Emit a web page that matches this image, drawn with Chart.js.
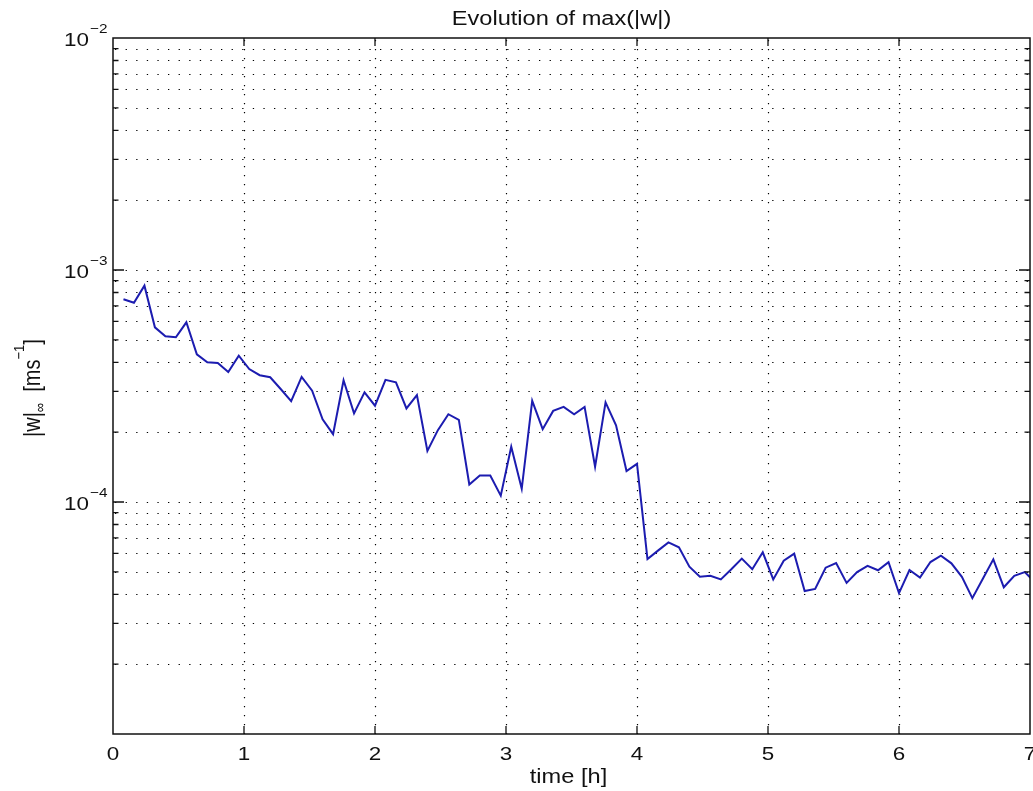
<!DOCTYPE html>
<html>
<head>
<meta charset="utf-8">
<title>Evolution of max(|w|)</title>
<script src="https://cdn.jsdelivr.net/npm/chart.js@4/dist/chart.umd.min.js"></script>
<style>
  html, body { margin: 0; padding: 0; background: #fff; }
  canvas { display: block; }
</style>
</head>
<body>
<canvas id="chart" width="1033" height="791"></canvas>
<script>
// sample times [h]
const times = [
  0.08, 0.16, 0.24, 0.32, 0.40, 0.48, 0.56, 0.64, 0.72, 0.80,
  0.88, 0.96, 1.04, 1.12, 1.20, 1.28, 1.36, 1.44, 1.52, 1.60,
  1.68, 1.76, 1.84, 1.92, 2.00, 2.08, 2.16, 2.24, 2.32, 2.40,
  2.48, 2.56, 2.64, 2.72, 2.80, 2.88, 2.96, 3.04, 3.12, 3.20,
  3.28, 3.36, 3.44, 3.52, 3.60, 3.68, 3.76, 3.84, 3.92, 4.00,
  4.08, 4.16, 4.24, 4.32, 4.40, 4.48, 4.56, 4.64, 4.72, 4.80,
  4.88, 4.96, 5.04, 5.12, 5.20, 5.28, 5.36, 5.44, 5.52, 5.60,
  5.68, 5.76, 5.84, 5.92, 6.00, 6.08, 6.16, 6.24, 6.32, 6.40,
  6.48, 6.56, 6.64, 6.72, 6.80, 6.88, 6.96, 7.04
];

// max(|w|) [m/s]
const wMax = [
  7.48e-4, 7.23e-4, 8.56e-4, 5.66e-4, 5.18e-4, 5.13e-4, 5.95e-4, 4.33e-4, 4.00e-4, 3.97e-4,
  3.63e-4, 4.27e-4, 3.74e-4, 3.52e-4, 3.45e-4, 3.07e-4, 2.72e-4, 3.46e-4, 3.02e-4, 2.27e-4,
  1.96e-4, 3.35e-4, 2.41e-4, 2.97e-4, 2.60e-4, 3.36e-4, 3.28e-4, 2.53e-4, 2.89e-4, 1.66e-4,
  2.04e-4, 2.39e-4, 2.26e-4, 1.19e-4, 1.30e-4, 1.30e-4, 1.065e-4, 1.73e-4, 1.14e-4, 2.73e-4,
  2.06e-4, 2.47e-4, 2.57e-4, 2.39e-4, 2.57e-4, 1.42e-4, 2.69e-4, 2.14e-4, 1.36e-4, 1.46e-4,
  5.68e-5, 6.17e-5, 6.70e-5, 6.38e-5, 5.26e-5, 4.76e-5, 4.81e-5, 4.64e-5, 5.13e-5, 5.70e-5,
  5.13e-5, 6.07e-5, 4.64e-5, 5.58e-5, 5.99e-5, 4.13e-5, 4.22e-5, 5.21e-5, 5.46e-5, 4.48e-5,
  4.99e-5, 5.31e-5, 5.08e-5, 5.50e-5, 4.05e-5, 5.09e-5, 4.72e-5, 5.51e-5, 5.87e-5, 5.44e-5,
  4.76e-5, 3.85e-5, 4.67e-5, 5.66e-5, 4.29e-5, 4.81e-5, 4.99e-5, 4.50e-5
];

// axis ticks
const xTicks = [0, 1, 2, 3, 4, 5, 6, 7];
const yDecadeExps = [-5, -4, -3, -2];
const yLabelExps = [-4, -3, -2];
const yMinorMults = [2, 3, 4, 5, 6, 7, 8, 9];

const FONT = '"Liberation Sans", Arial, Helvetica, sans-serif';
const SX = 1.18; // the original figure is a bit wider than tall

function stretchText(ctx, text, x, y, size, align) {
  ctx.save();
  ctx.font = size + 'px ' + FONT;
  ctx.textAlign = align;
  ctx.textBaseline = 'alphabetic';
  ctx.translate(x, y);
  ctx.scale(SX, 1);
  ctx.fillText(text, 0, 0);
  ctx.restore();
}

const matlabAxes = {
  id: 'matlabAxes',
  beforeDraw(chart) {
    const ctx = chart.ctx;
    ctx.save();
    ctx.fillStyle = '#fff';
    ctx.fillRect(0, 0, chart.width, chart.height);
    ctx.restore();
  },
  beforeDatasetsDraw(chart) {
    const {ctx, chartArea: a, scales: {x, y}} = chart;
    ctx.save();
    ctx.strokeStyle = '#000';
    ctx.lineWidth = 1.2;
    // horizontal dotted grid
    ctx.setLineDash([1.3, 9.3]);
    yDecadeExps.forEach(e => {
      const vals = [Math.pow(10, e)].concat(yMinorMults.map(m => m * Math.pow(10, e)));
      vals.forEach(v => {
        if (v <= y.min || v >= y.max) return;
        const py = Math.round(y.getPixelForValue(v)) + 0.5;
        ctx.beginPath();
        ctx.moveTo(a.left + 2, py);
        ctx.lineTo(a.right, py);
        ctx.stroke();
      });
    });
    // vertical dotted grid
    ctx.setLineDash([1.3, 7.7]);
    xTicks.forEach(t => {
      if (t <= x.min || t >= x.max) return;
      const px = Math.round(x.getPixelForValue(t)) + 0.5;
      ctx.beginPath();
      ctx.moveTo(px, a.top + 2);
      ctx.lineTo(px, a.bottom);
      ctx.stroke();
    });
    ctx.restore();
  },
  afterDatasetsDraw(chart) {
    const {ctx, chartArea: a, scales: {x, y}} = chart;
    ctx.save();
    ctx.strokeStyle = '#111';
    ctx.lineWidth = 1.5;
    ctx.setLineDash([]);
    ctx.strokeRect(a.left, a.top, a.right - a.left, a.bottom - a.top);

    ctx.lineWidth = 1.3;
    ctx.beginPath();
    // y ticks, left and right, pointing inwards
    yDecadeExps.forEach(e => {
      const d = Math.pow(10, e);
      const py = y.getPixelForValue(d);
      if (d > y.min && d < y.max) {
        ctx.moveTo(a.left, py); ctx.lineTo(a.left + 11, py);
        ctx.moveTo(a.right, py); ctx.lineTo(a.right - 11, py);
      }
      yMinorMults.forEach(m => {
        const v = m * d;
        if (v <= y.min || v >= y.max) return;
        const pm = y.getPixelForValue(v);
        ctx.moveTo(a.left, pm); ctx.lineTo(a.left + 5.5, pm);
        ctx.moveTo(a.right, pm); ctx.lineTo(a.right - 5.5, pm);
      });
    });
    // x ticks, bottom and top
    xTicks.forEach(t => {
      if (t <= x.min || t >= x.max) return;
      const px = x.getPixelForValue(t);
      ctx.moveTo(px, a.bottom); ctx.lineTo(px, a.bottom - 8);
      ctx.moveTo(px, a.top); ctx.lineTo(px, a.top + 8);
    });
    ctx.stroke();
    ctx.restore();
  },
  afterDraw(chart) {
    const {ctx, chartArea: a, scales: {x, y}} = chart;
    ctx.save();
    ctx.fillStyle = '#111';

    // title
    stretchText(ctx, 'Evolution of max(|w|)', (a.left + a.right) / 2 - 10, 25, 20, 'center');

    // x tick labels
    xTicks.forEach(t => {
      stretchText(ctx, String(t), x.getPixelForValue(t), 760, 19, 'center');
    });
    // x axis label
    stretchText(ctx, 'time [h]', (a.left + a.right) / 2 - 3, 783, 20, 'center');

    // y tick labels 10^e
    yLabelExps.forEach(e => {
      const py = y.getPixelForValue(Math.pow(10, e));
      stretchText(ctx, '10', 89, py + 7.5, 19, 'right');
      stretchText(ctx, '\u2212' + Math.abs(e), 90, py - 5, 13, 'left');
    });

    // y axis label: |w|_inf [ms^-1], rotated
    ctx.translate(39.5, 437);
    ctx.rotate(-Math.PI / 2);
    ctx.scale(1, SX);
    ctx.textAlign = 'left';
    ctx.textBaseline = 'alphabetic';
    let cx = 0;
    const piece = (txt, size, dy) => {
      ctx.font = size + 'px ' + FONT;
      ctx.fillText(txt, cx, dy);
      cx += ctx.measureText(txt).width;
    };
    piece('|w|', 20, 0);
    piece('\u221E', 13, 5);
    piece('  [ms', 20, 0);
    piece('\u22121', 13, -13);
    piece(']', 20, 0);
    ctx.restore();
  }
};

new Chart(document.getElementById('chart').getContext('2d'), {
  type: 'line',
  data: {
    datasets: [{
      label: 'max(|w|)',
      data: times.map((t, i) => ({x: t, y: wMax[i]})),
      borderColor: '#1c1cb0',
      borderWidth: 2,
      pointRadius: 0,
      tension: 0,
      fill: false
    }]
  },
  options: {
    responsive: false,
    animation: false,
    devicePixelRatio: 1,
    layout: {padding: {left: 113, right: 3, top: 38, bottom: 57}},
    plugins: {
      legend: {display: false},
      tooltip: {enabled: false},
      title: {display: false}
    },
    scales: {
      x: {
        type: 'linear', min: 0, max: 7,
        ticks: {display: false}, grid: {display: false}, border: {display: false},
        afterFit: s => { s.height = 0; }
      },
      y: {
        type: 'logarithmic', min: 1e-5, max: 1e-2,
        ticks: {display: false}, grid: {display: false}, border: {display: false},
        afterFit: s => { s.width = 0; }
      }
    }
  },
  plugins: [matlabAxes]
});
</script>
</body>
</html>
